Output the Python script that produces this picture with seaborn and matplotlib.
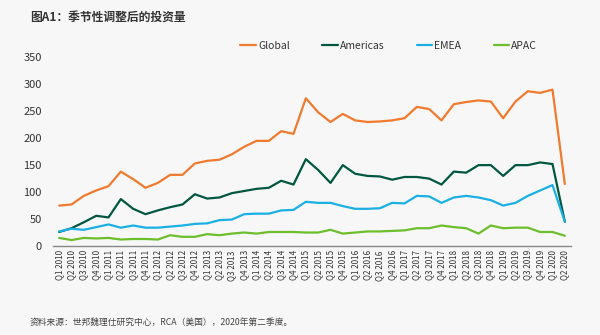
import matplotlib
matplotlib.use("Agg")
import matplotlib.pyplot as plt
import seaborn as sns
import pandas as pd

quarters = [f"Q{q} {y}" for y in range(2010, 2021) for q in range(1, 5)][:42]

global_vals = [75, 77, 93, 103, 111, 138, 124, 108, 117, 132, 132, 153, 158, 160, 170, 184,
               195, 195, 213, 208, 274, 248, 230, 245, 233, 230, 231, 233, 237, 258, 254, 233,
               263, 267, 270, 268, 237, 268, 287, 284, 290, 115]
americas_vals = [26, 33, 44, 56, 53, 87, 69, 59, 66, 72, 77, 96, 88, 90, 98, 102,
                 106, 108, 121, 114, 161, 141, 117, 150, 134, 130, 129, 123, 128, 128, 125, 114,
                 138, 136, 150, 150, 130, 150, 150, 155, 152, 45]
emea_vals = [27, 32, 30, 35, 40, 34, 38, 34, 34, 36, 38, 41, 42, 48, 49, 59,
             60, 60, 66, 67, 82, 80, 80, 74, 69, 69, 70, 80, 79, 93, 92, 80,
             90, 93, 90, 85, 75, 80, 93, 103, 113, 45]
apac_vals = [15, 11, 15, 14, 15, 12, 13, 13, 12, 20, 17, 17, 22, 20, 23, 25,
             23, 26, 26, 26, 25, 25, 30, 23, 25, 27, 27, 28, 29, 33, 33, 38,
             35, 33, 23, 38, 33, 34, 34, 26, 26, 19]

series_names = ["Global", "Americas", "EMEA", "APAC"]
colors = ["#F07A2E", "#00573F", "#1AB0E4", "#6DBE2C"]

rows = []
for name, vals in zip(series_names, [global_vals, americas_vals, emea_vals, apac_vals]):
    for i, v in enumerate(vals):
        rows.append({"idx": i, "value": v, "series": name})
df = pd.DataFrame(rows)

sns.set_theme(style="white")
plt.rcParams['font.family'] = ['Liberation Sans Narrow', 'Noto Sans CJK SC', 'DejaVu Sans']

bg = "#F7F7F7"
fig = plt.figure(figsize=(6, 3.35), dpi=100, facecolor=bg)
ax = fig.add_axes([53/600, 1-246/335, (571-53)/600, (246-57.3)/335])
ax.set_facecolor(bg)

sns.lineplot(data=df, x="idx", y="value", hue="series", hue_order=series_names,
             palette=colors, linewidth=1.6, ax=ax, legend=True)

ax.set_xlim(-0.5, 41.5)
ax.set_ylim(0, 350)
ax.set_yticks(range(0, 351, 50))
ax.set_xticks(range(len(quarters)))
ax.set_xticklabels(quarters, rotation=90, fontsize=5.8, color="#333333")
ax.tick_params(axis="y", labelsize=8, colors="#333333", length=0, pad=8)
ax.tick_params(axis="x", length=0, pad=3)
ax.set_xlabel("")
ax.set_ylabel("")
for s in ["top", "right", "left"]:
    ax.spines[s].set_visible(False)
ax.spines["bottom"].set_color("#888888")
ax.spines["bottom"].set_linewidth(1.0)

leg = ax.legend(loc="lower center", bbox_to_anchor=(0.648, 0.985), ncol=4, frameon=False,
                fontsize=7.5, handlelength=1.5, handletextpad=0.2, columnspacing=3.1)
for t in leg.get_texts():
    t.set_color("#333333")

fig.text(30/600, 1-17/335, "图A1：季节性调整后的投资量", fontsize=8.5, fontweight="bold",
         color="#333333", va="center", ha="left", family=['Noto Sans CJK SC', 'DejaVu Sans'])
fig.text(30/600, 1-322/335, "资料来源：世邦魏理仕研究中心，RCA（美国），2020年第二季度。", fontsize=6.3,
         color="#444444", va="center", ha="left", family=['Noto Sans CJK SC', 'DejaVu Sans'])

fig.savefig("out.png", dpi=100, facecolor=bg)
